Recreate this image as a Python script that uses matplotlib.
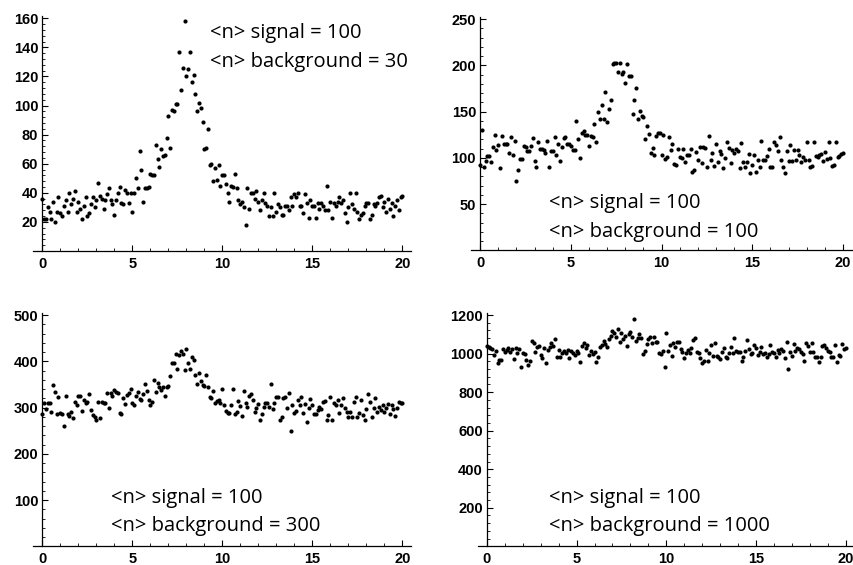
import matplotlib.pyplot as plt
import numpy as np
from matplotlib.ticker import MultipleLocator

# x runs 0..20 in steps of 0.1 for all four panels
x = np.linspace(0, 20, 201)

# counts, one list per background level
bg30 = [36, 22, 22, 30, 27, 22, 34, 20, 27, 37,
        26, 24, 31, 35, 27, 40, 32, 36, 41, 27,
        34, 29, 22, 31, 37, 24, 26, 32, 37, 30,
        35, 47, 38, 36, 29, 35, 39, 43, 35, 32,
        25, 35, 40, 44, 33, 32, 42, 40, 33, 40,
        27, 40, 50, 43, 69, 56, 34, 43, 43, 44,
        53, 52, 52, 73, 63, 58, 70, 65, 66, 78,
        93, 71, 97, 96, 101, 101, 137, 111, 126, 158,
        120, 125, 137, 116, 121, 108, 96, 102, 98, 89,
        70, 71, 84, 59, 60, 48, 57,
        49, 59, 45, 52, 52, 46, 40, 34, 45, 44,
        53, 43, 35, 32, 34, 30, 18, 43, 29, 40,
        40, 36, 41, 34, 28, 35, 40, 33, 31, 24,
        30, 24, 40, 27, 32, 30, 25, 25, 31, 31,
        28, 37, 31, 39, 37, 40, 31, 31, 26, 39,
        33, 23, 35, 31, 31, 23, 33, 29, 33, 31,
        28, 45, 28, 34, 23, 33, 31, 34, 37, 33,
        35, 26, 20, 30, 40, 32, 29, 40, 27, 22,
        25, 26, 31, 33, 33, 22, 25, 32, 31, 33,
        37, 38, 30, 34, 27, 36, 29, 33, 24, 31,
        35, 28, 37, 38]

bg100 = [92, 130, 90, 97, 102, 102, 95, 112, 125, 108,
         114, 89, 124, 115, 115, 115, 105, 122, 103, 118,
         75, 87, 99, 99, 113, 112, 107, 107, 113, 121,
         97, 90, 117, 110, 110, 108, 105, 118, 90, 107,
         107, 122, 103, 115, 97, 112, 121, 122, 115, 115,
         113, 108, 108, 140, 120, 100, 127, 129, 125, 125,
         113, 124, 122, 137, 117, 149, 142, 157, 142, 171,
         139, 153, 162, 201, 202, 202, 193, 203, 191, 193,
         181, 201, 188, 188, 147, 163, 176, 142, 151, 145,
         144, 120, 134, 126, 105, 111, 103, 124, 127, 127,
         103, 125, 99, 101, 123, 108, 115, 93, 92, 110,
         101, 100, 110, 96, 103, 103, 109, 85, 87, 106,
         98, 112, 94, 112, 111, 90, 124, 98, 105, 91,
         115, 96, 107, 104, 89, 100, 117, 111, 94, 108,
         105, 110, 107, 89, 116, 96, 90, 96, 104, 84,
         92, 103, 85, 98, 90, 118, 98, 98, 102, 110,
         90, 90, 117, 114, 107, 123, 98, 90, 84, 107,
         97, 114, 97, 108, 98, 108, 103, 96, 101, 98,
         117, 98, 90, 91, 117, 102, 101, 103, 104,
         97, 106, 99, 117, 100, 91, 92, 117, 101, 102, 104, 105]

bg300 = [285, 310, 297, 310, 309, 290, 349, 333, 286, 322,
         289, 287, 261, 326, 287, 282, 290, 277, 313, 306,
         325, 326, 293, 316, 309, 312, 329, 295, 283, 280,
         272, 313, 277, 312, 310, 310, 332, 299, 331, 325,
         338, 334, 332, 289, 285, 320, 307, 327, 331, 341,
         309, 305, 326, 334, 318, 317, 329, 351, 336, 317,
         305, 313, 359, 334, 352, 345, 338, 344, 325, 344,
         347, 368, 396, 397, 416, 383, 414, 423, 416, 381,
         427, 397, 384, 410, 403, 370, 351, 374, 358, 349,
         347, 370, 344, 323, 320, 336, 309, 315, 316, 309,
         339, 305, 293, 289, 289, 306, 339, 287, 291, 315,
         303, 282, 336, 310, 302, 325, 329, 316, 291, 298,
         308, 272, 287, 302, 309, 310, 302, 351, 296, 309,
         322, 323, 274, 280, 321, 322, 300, 331, 250, 305,
         289, 293, 316, 305, 323, 289, 307, 269, 300, 318,
         305, 285, 287, 295, 302, 296, 312, 314, 273, 283,
         322, 272, 309, 305, 316, 289, 305, 320, 298, 291,
         279, 290, 280, 313, 322, 279, 289, 316, 283, 273,
         296, 329, 312, 279, 298, 320, 291, 302, 295, 305,
         291, 300, 308, 286, 305, 296, 282, 300, 312, 309, 309]

bg1000 = [1039, 1036, 1027, 1022, 992, 1015, 949, 966, 966, 1022,
          1010, 1018, 1027, 1010, 1022, 972, 1027, 1001, 1022, 932,
          1001, 998, 966, 940, 963, 1067, 1056, 1010, 1032, 1039,
          992, 975, 1027, 949, 1018, 1032, 1056, 1039, 1074, 980,
          1018, 984, 1004, 1015, 1004, 1018, 975, 1015, 1001, 992,
          1015, 1004, 958, 1039, 1053, 1027, 1044, 992, 1015, 998,
          1010, 958, 984, 1036, 1044, 1067, 1050, 1036, 1074, 1091,
          1119, 1108, 1088, 1126, 1062, 1105, 1074, 1091, 1039, 1100,
          1114, 1088, 1181, 1067, 1079, 1100, 1079, 998, 1015, 1050,
          1074, 1088, 1056, 1088, 1062, 1062, 1004, 998, 1015, 928,
          1105, 1015, 1044, 987, 1053, 1032, 1058, 1062, 1022, 1010,
          975, 1001, 1018, 1004, 1027, 1070, 1079, 1010, 1001, 975,
          953, 963, 1018, 963, 1001, 1044, 987, 1056, 987, 984,
          970, 1010, 1027, 984, 975, 1004, 1036, 1004, 1079, 1015,
          1010, 1010, 963, 984, 1015, 1070, 1022, 998, 1001, 1044,
          1027, 992, 1010, 1036,
          998, 1001, 984, 998, 1044, 1010, 1001, 984, 1018, 1004,
          1022, 1015, 975, 1062, 918, 1010, 987, 1050, 1015, 1027,
          1022, 1010, 998, 963, 1056, 1039, 1010, 1056, 1010, 984,
          980, 958, 984, 1039, 1044, 1027, 1015,
          1010, 984, 984, 1044, 958, 992, 987, 1048, 1022, 1027]

backgrounds = ["30", "100", "300", "1000"]
series = [bg30, bg100, bg300, bg1000]
yticks = [np.arange(20, 161, 20), np.arange(50, 251, 50),
          np.arange(100, 501, 100), np.arange(200, 1201, 200)]
yminor = [4, 10, 20, 40]
ytop = [161.5, 252, 505, 1210]

plt.rcParams['font.family'] = 'Liberation Sans'
plt.rcParams['font.weight'] = 'bold'
plt.rcParams['xtick.labelsize'] = 10.5
plt.rcParams['ytick.labelsize'] = 10.5

W, H = 854, 565
fig = plt.figure(figsize=(W / 100, H / 100), dpi=100)

# pixel boxes (left, top, right, bottom) of each panel
boxes = [(33.3, 16.1, 411.3, 251.0), (471.1, 17.2, 852.1, 250.3),
         (33.3, 312.7, 411.3, 546.3), (477.9, 313.1, 854.7, 546.3)]
# text anchor (x, y of first line, y of second line) in data units
labels = [(9.3, 146.4, 126.5), (3.78, 45.7, 14.4),
          (3.82, 93.6, 33.0), (3.44, 224.7, 79.4)]

for i in range(4):
    l, t, r, b = boxes[i]
    ax = fig.add_axes([l / W, 1 - b / H, (r - l) / W, (b - t) / H])
    ax.plot(x, series[i], 'o', color='black', ms=3.0, mew=0)
    ax.set_xlim(-0.5, 20.5)
    ax.set_ylim(0, ytop[i])
    ax.spines['top'].set_visible(False)
    ax.spines['right'].set_visible(False)
    ax.spines['left'].set_position(('data', 0))
    for s in ['left', 'bottom']:
        ax.spines[s].set_linewidth(0.9)
    ax.set_xticks([0, 5, 10, 15, 20])
    ax.set_yticks(yticks[i])
    ax.xaxis.set_minor_locator(MultipleLocator(1))
    ax.yaxis.set_minor_locator(MultipleLocator(yminor[i]))
    ax.tick_params(which='major', direction='in', length=4.5, width=0.8, pad=4)
    ax.tick_params(which='minor', direction='in', length=2.5, width=0.6)
    ax.tick_params(axis='y', which='major', pad=3)
    tx, ty1, ty2 = labels[i]
    ax.text(tx, ty1, "<n> signal = 100", fontsize=14.5, family='Open Sans',
            weight='normal', va='baseline')
    ax.text(tx, ty2, "<n> background = " + backgrounds[i], fontsize=14.5,
            family='Open Sans', weight='normal', va='baseline')

plt.savefig('out.png', dpi=100)
